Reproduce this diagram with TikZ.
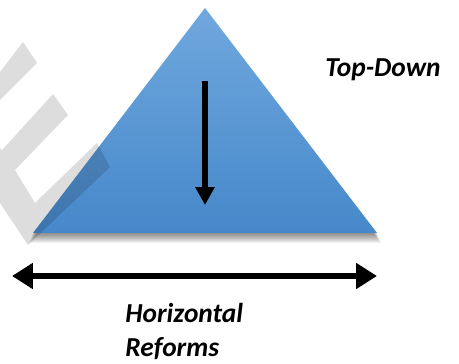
\documentclass[tikz,border=0pt]{standalone}
\usepackage{fontspec}
\setmainfont{Carlito}
\usetikzlibrary{arrows.meta}
\definecolor{triTop}{RGB}{112,168,222}
\definecolor{triBot}{RGB}{70,136,202}
\begin{document}
\begin{tikzpicture}[x=0.02cm,y=-0.02cm,
  lbl/.style={font=\fontsize{15.6pt}{19.3pt}\selectfont\bfseries\itshape, inner sep=0pt, anchor=base west},
  vtip/.style={-{Triangle[length=0.36cm,width=0.37cm]}},
  htip/.style={{Triangle[length=0.42cm,width=0.5cm]}-{Triangle[length=0.42cm,width=0.5cm]}},
  wmark/.style={fill=black, fill opacity=0.135}]
\useasboundingbox (0,0) rectangle (459,364);
% triangle shadow
\foreach \k in {1,...,10}
  \fill[black,opacity=0.055] (205,8+\k) -- (33-0.4*\k,233+\k) -- (377+0.4*\k,233+\k) -- cycle;
% triangle
\coordinate (apex) at (205,8);
\coordinate (bl) at (33,233);
\coordinate (br) at (377,233);
\path[top color=triTop, bottom color=triBot] (apex) -- (bl) -- (br) -- cycle;
% watermark
\begin{scope}
\clip (0,0) rectangle (459,364);
\fill[wmark] (23,42) -- (37,63) -- (-19,119) -- (1.85,150.3) -- (53,94) -- (68,115)
  -- (15,170) -- (35,203) -- (97,143) -- (110,167) -- (28,245) -- (-40,143) -- (-40,124) -- cycle;
\end{scope}
% arrows
\coordinate (vs) at (205,81);
\coordinate (ve) at (205,205);
\draw[line width=0.11cm, vtip] (vs) -- (ve);
\coordinate (hl) at (12,276);
\coordinate (hr) at (377,276);
\draw[line width=0.13cm, htip] (hl) -- (hr);
% labels
\node[lbl] (td) at (325,77) {Top-Down};
\node[lbl] (h1) at (125,322) {Horizontal};
\node[lbl] (h2) at (125,356) {Reforms};
\end{tikzpicture}
\end{document}
